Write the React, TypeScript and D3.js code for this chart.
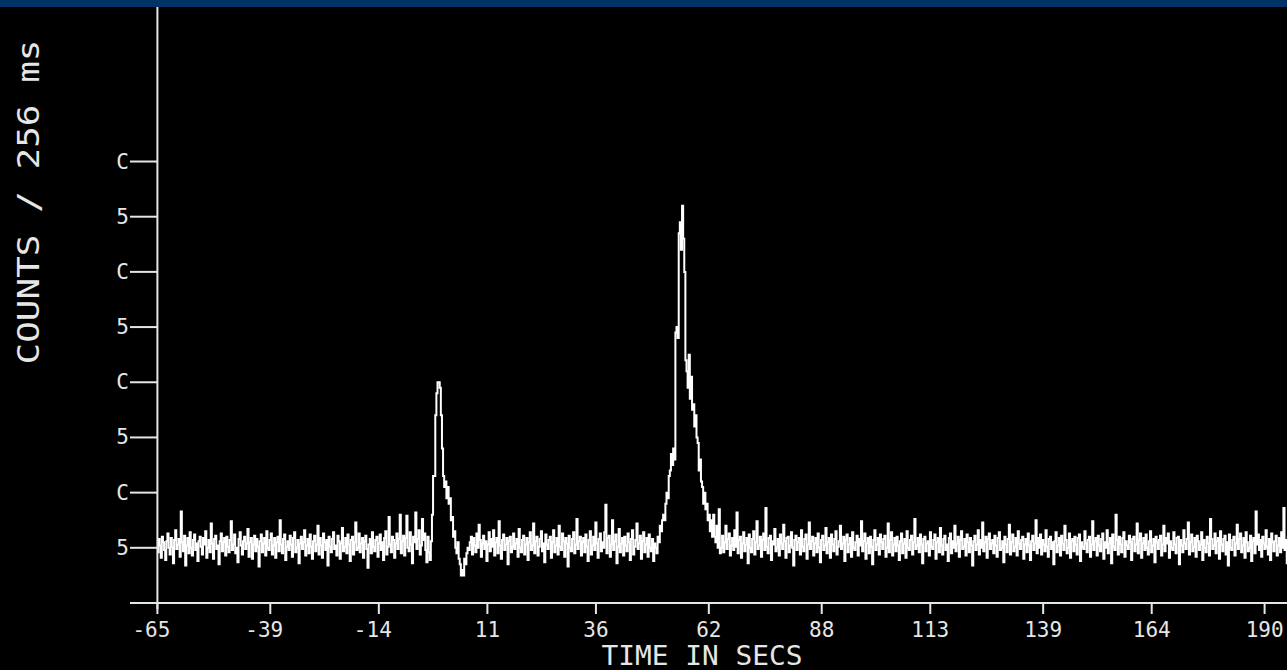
import React from "react";
import * as d3 from "d3";

const W = 1287;
const H = 670;

// Time-axis ticks (seconds) and their labels
const xTickValues = [-65, -39, -14, 11, 36, 62, 88, 113, 139, 164, 190];
const xTickLabels = ["-65", "-39", "-14", "11", "36", "62", "88", "113", "139", "164", "190"];
// Count-axis ticks and labels as printed
const yTickValues = [5, 10, 15, 20, 25, 30, 35, 40];
const yTickLabels = ["5", "C", "5", "C", "5", "C", "5", "C"];

const binSeconds = 0.256;
const startTime = -65;

// counts per 256 ms bin
const preBurst = [
  4.6,5.8,5.2,4.1,6.0,5.5,4.8,3.9,5.6,6.3,5.0,4.4,5.9,5.1,3.6,5.7,6.6,4.9,5.3,5.8,
  4.2,8.3,5.5,4.7,6.1,3.4,5.2,5.9,4.5,6.4,5.0,4.3,5.7,6.2,4.8,5.4,3.8,5.6,6.0,5.1,
  4.4,5.9,5.3,6.5,4.1,5.0,5.7,4.6,7.2,5.4,4.0,5.8,6.1,4.9,5.2,3.5,5.6,6.3,4.7,5.5,
  5.9,4.3,6.0,5.1,4.6,5.7,7.4,4.8,5.3,6.2,4.5,5.0,3.7,5.8,6.4,5.2,4.4,5.6,6.0,4.9,
  5.4,6.7,4.2,5.5,5.9,4.0,5.3,6.1,4.7,5.8,5.1,3.3,5.6,6.2,4.6,5.4,5.9,4.3,6.5,5.0,
  4.8,5.7,6.3,4.4,5.2,5.9,4.1,5.5,6.0,4.7,7.5,5.3,4.5,5.8,6.2,3.9,5.1,5.6,4.8,6.1,
  5.3,4.2,5.9,6.4,4.6,5.0,5.7,3.6,5.4,6.0,4.9,5.5,6.6,4.3,5.2,5.8,4.5,6.2,5.1,4.0,
  5.6,6.1,4.7,5.3,7.0,4.4,5.9,5.2,4.1,6.3,5.5,4.8,5.7,3.4,6.0,5.1,4.6,5.8,6.4,4.9,
  5.2,4.3,6.1,5.6,4.0,5.4,6.8,4.7,5.1,5.9,4.5,6.2,5.3,3.8,5.7,6.0,4.4,5.5,7.3,4.8,
  5.0,6.3,4.6,5.4,5.9,4.1,5.6,6.1,4.9,3.2,5.3,5.8,4.5,6.4,5.1,4.7,5.7,6.0,4.2,5.4,
  6.2,4.8,5.5,3.9,5.9,6.5,4.4,5.1,7.8,5.3,4.6,6.0,5.7,4.1,5.4,6.3,4.9,5.8,8.0,4.5,
  5.6,6.1,4.3,5.9,7.9,5.0,4.7,6.4,5.3,3.6,6.0,5.5,8.2,4.9,5.8,6.6,4.4,5.2,7.6,5.7,
  6.3,4.8,3.7,6.0,4.6,3.9,5.6,
];

const burst1 = [
  8.0,11.5,11.5,17.0,19.0,20.0,20.0,19.5,17.0,14.0,11.5,10.5,11.0,9.5,10.5,9.0,9.5,
  7.5,7.8,6.0,6.5,5.0,4.5,5.5,4.0,3.5,2.5,3.0,2.5,4.0,3.5,4.5,5.0,
];

const interBurst = [
  4.8,5.5,6.0,4.4,5.9,5.2,4.6,6.3,5.0,7.1,5.7,4.2,5.4,6.1,4.9,5.6,3.8,5.3,6.4,4.7,
  5.8,5.1,6.6,4.3,5.5,5.9,4.5,7.4,5.2,4.0,5.7,6.2,4.8,5.3,5.9,3.5,5.6,6.0,4.6,5.1,
  6.3,4.9,5.4,5.8,4.2,6.7,5.0,4.6,5.7,6.1,4.4,5.3,5.9,3.9,5.5,6.4,4.8,5.2,7.2,4.5,
  5.6,6.0,4.3,5.1,5.8,6.5,4.7,5.4,3.7,6.2,5.3,4.9,5.7,6.0,4.1,5.5,6.6,4.6,5.2,5.9,
  4.4,7.0,5.1,4.8,6.3,5.6,4.2,5.9,5.4,3.3,6.1,5.0,4.7,5.8,6.4,4.5,5.3,7.6,4.9,5.6,
  6.0,4.3,5.5,5.9,4.6,6.2,5.1,3.8,5.7,6.5,4.4,5.2,6.0,4.8,7.3,5.4,4.1,5.8,6.3,4.7,
  5.5,5.0,6.4,8.9,4.5,5.9,6.1,4.2,5.3,7.5,4.8,5.6,6.2,3.6,5.1,6.7,4.6,5.4,5.9,4.3,
  6.0,5.2,4.7,6.3,5.5,3.9,5.8,6.6,4.4,5.1,5.7,7.2,4.9,5.4,6.1,4.0,5.6,6.4,4.6,5.3,
  5.9,4.2,6.2,5.0,4.7,5.8,3.8,5.4,
];

const burst2 = [
  5.0,4.5,6.0,5.5,7.0,6.5,7.5,8.0,7.5,9.0,10.0,9.5,11.5,12.0,13.5,12.5,14.0,13.0,
  24.5,25.0,24.0,33.5,34.5,32.0,36.0,33.0,30.0,22.0,21.0,19.5,22.5,18.5,20.5,17.5,
  18.0,16.0,17.0,15.0,14.5,12.0,13.0,11.0,10.5,9.0,10.0,8.5,9.0,7.5,8.0,6.5,7.5,
  6.0,8.0,6.0,5.5,7.0,5.0,8.5,4.5,5.0,
];

const postBurst = [
  6.1,4.6,5.5,7.0,4.9,5.8,6.3,4.3,5.2,5.9,4.8,6.6,5.1,8.2,4.5,5.7,6.0,4.1,5.4,6.4,
  4.7,5.3,5.9,3.6,6.2,5.0,4.6,5.8,6.5,4.4,5.5,7.4,4.9,5.2,6.0,4.2,5.7,6.3,4.8,8.6,
  5.1,4.5,5.9,6.1,3.9,5.6,5.3,6.7,4.7,5.0,5.8,4.3,6.2,5.4,4.9,7.1,5.6,4.1,5.9,6.0,
  4.6,5.2,6.4,5.0,3.4,5.7,6.1,4.8,5.5,5.9,4.4,6.6,5.1,4.7,5.8,6.2,4.0,5.3,7.3,4.9,
  5.6,6.0,4.3,5.4,5.9,4.6,6.3,5.0,3.7,5.7,6.1,4.8,5.2,6.8,4.5,5.5,5.9,4.1,6.2,5.3,
  4.7,5.8,6.5,4.4,5.1,5.6,7.0,4.9,5.4,6.0,3.8,5.7,6.2,4.6,5.3,5.9,4.2,6.4,5.0,4.8,
  5.5,6.1,4.3,5.8,5.2,7.4,4.7,5.6,6.3,4.0,5.4,5.9,4.5,6.0,5.1,3.5,5.7,6.6,4.8,5.3,
  5.9,4.4,6.2,5.5,4.9,5.8,6.1,4.2,5.0,7.2,4.6,5.7,6.4,4.3,5.3,5.9,4.7,6.0,5.2,3.9,
  5.6,6.3,4.5,5.4,5.8,4.1,6.5,5.0,4.8,5.7,6.1,4.4,5.5,7.6,4.9,5.2,5.9,4.6,6.2,5.3,
  3.6,5.8,6.0,4.7,5.4,5.6,4.3,6.4,5.1,4.9,5.7,6.2,4.0,5.5,5.9,4.6,6.8,5.2,4.4,5.8,
  6.1,4.8,5.3,3.8,5.9,6.3,4.5,5.6,5.0,7.0,4.7,5.4,6.0,4.2,5.7,6.5,4.9,5.1,5.8,4.3,
  6.2,5.5,4.6,5.9,5.2,3.4,5.6,6.1,4.8,5.3,6.6,4.4,5.7,5.0,7.3,4.7,5.5,6.0,4.1,5.8,
  6.3,4.9,5.4,5.7,4.5,6.1,5.2,4.2,5.9,6.4,4.8,5.0,5.6,3.7,6.0,5.3,4.6,5.8,7.1,4.4,
  5.5,6.2,4.7,5.1,5.9,4.3,6.5,5.4,4.9,5.7,6.0,4.0,5.3,5.8,4.6,6.3,5.2,3.9,5.6,6.1,
  4.8,5.4,7.5,4.5,5.9,5.0,6.2,4.4,5.7,5.3,4.7,6.6,5.1,4.2,5.8,6.0,4.9,5.5,3.5,5.6,
  6.4,4.6,5.2,5.9,4.3,6.1,5.4,4.8,7.0,5.7,4.5,5.0,6.3,4.1,5.6,5.8,4.7,6.0,5.3,4.4,
  5.9,6.2,3.8,5.5,5.1,4.9,6.5,5.4,4.6,5.7,6.0,4.2,5.3,7.4,4.8,5.6,5.9,4.3,6.1,5.2,
  4.7,5.8,6.3,4.0,5.5,5.0,6.6,4.5,5.4,5.9,3.6,6.2,5.1,4.8,8.0,5.7,4.4,6.0,5.3,4.6,
  5.9,6.4,4.2,5.6,5.2,4.9,6.1,5.5,3.9,5.8,6.0,4.7,5.3,7.2,4.5,5.7,6.3,4.1,5.4,5.9,
  4.8,6.2,5.0,4.4,5.6,6.5,4.6,5.2,5.8,3.7,6.0,5.5,4.9,5.7,6.1,4.3,5.3,7.0,4.7,5.9,
  5.4,6.3,4.1,5.6,5.0,4.8,6.4,5.3,4.5,5.9,6.0,3.5,5.7,5.2,4.6,6.6,5.4,4.9,5.8,7.3,
  4.4,5.5,6.2,4.7,5.1,5.9,4.2,6.1,5.6,4.8,5.3,6.4,3.9,5.7,5.0,4.6,6.0,5.4,4.3,7.6,
  5.8,4.9,5.2,6.3,4.5,5.6,5.9,4.0,6.5,5.3,4.7,5.8,6.1,4.4,5.5,3.4,6.2,5.0,4.8,5.7,
  6.0,4.3,5.4,7.1,4.9,5.8,6.3,4.6,5.2,5.9,4.1,6.4,5.5,4.7,5.0,6.1,3.8,5.6,5.9,4.5,
  8.3,5.3,6.2,4.8,5.7,4.2,6.0,5.4,4.9,6.6,5.1,4.4,5.8,3.9,6.3,5.5,4.7,5.6,6.1,4.3,
  5.2,5.9,4.6,6.4,5.0,8.6,4.8,5.7,3.6,6.0,
];

const counts = [...preBurst, ...burst1, ...interBurst, ...burst2, ...postBurst];

const AXIS = "#e6e6e6";
const FONT = "'DejaVu Sans Mono', 'Liberation Mono', monospace";

export default function App() {
  const x = d3.scaleLinear().domain([-65, 190]).range([157.4, 1264.6]);
  const y = d3.scaleLinear().domain([0, 54]).range([603, 7]);

  const pts: [number, number][] = counts.map((c, i) => [startTime + i * binSeconds, c]);
  pts.push([startTime + counts.length * binSeconds, counts[counts.length - 1]]);
  const line = d3
    .line<[number, number]>()
    .x((d) => x(d[0]))
    .y((d) => y(d[1]))
    .curve(d3.curveStepAfter);

  const axisY = x(-65);
  const axisX = y(0);

  return (
    <div style={{ position: "fixed", left: 0, top: 0, width: W, height: H, background: "#000" }}>
      <svg width={W} height={H} style={{ display: "block" }}>
        <defs>
          <clipPath id="plot">
            <rect x={axisY} y={7} width={W - axisY} height={axisX - 7} />
          </clipPath>
        </defs>
        <rect x={0} y={0} width={W} height={H} fill="#000" />
        <rect x={0} y={0} width={W} height={7} fill="#003366" />

        {/* data */}
        <path
          d={line(pts) || ""}
          fill="none"
          stroke="#ffffff"
          strokeWidth={2}
          clipPath="url(#plot)"
        />

        {/* y axis */}
        <line x1={axisY} x2={axisY} y1={7} y2={axisX + 6} stroke={AXIS} strokeWidth={2} />
        {yTickValues.map((v, i) => (
          <g key={"yt" + i}>
            <line x1={130} x2={axisY} y1={y(v)} y2={y(v)} stroke={AXIS} strokeWidth={2} />
            <text
              x={129}
              y={y(v) + 7}
              textAnchor="end"
              fill={AXIS}
              fontFamily={FONT}
              fontSize={21}
            >
              {yTickLabels[i]}
            </text>
          </g>
        ))}

        {/* x axis */}
        <line x1={130} x2={W} y1={axisX} y2={axisX} stroke={AXIS} strokeWidth={2} />
        {xTickValues.map((v, i) => (
          <g key={"xt" + i}>
            <line x1={x(v)} x2={x(v)} y1={axisX} y2={axisX + 11} stroke={AXIS} strokeWidth={2} />
            <text
              x={x(v) + (v < 0 ? -6 : 0)}
              y={637}
              textAnchor="middle"
              fill={AXIS}
              fontFamily={FONT}
              fontSize={21}
            >
              {xTickLabels[i]}
            </text>
          </g>
        ))}

        {/* titles */}
        <text
          x={702}
          y={665}
          textAnchor="middle"
          fill={AXIS}
          fontFamily={FONT}
          fontSize={27}
          textLength={201}
          lengthAdjust="spacingAndGlyphs"
        >
          TIME IN SECS
        </text>
        <text
          transform="translate(39,202) rotate(-90)"
          textAnchor="middle"
          fill={AXIS}
          fontFamily={FONT}
          fontSize={30}
          textLength={325}
          lengthAdjust="spacingAndGlyphs"
        >
          COUNTS / 256 ms
        </text>
      </svg>
    </div>
  );
}
